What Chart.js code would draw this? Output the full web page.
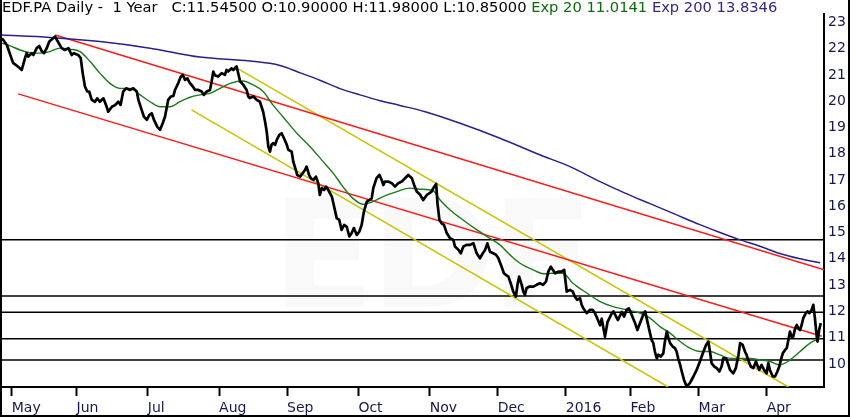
<!DOCTYPE html>
<html>
<head>
<meta charset="utf-8">
<script src="https://cdn.jsdelivr.net/npm/chart.js@4.4.1/dist/chart.umd.min.js"></script>
<style>
  html, body { margin: 0; padding: 0; background: #fff; }
  #wrap { position: relative; width: 850px; height: 417px; overflow: hidden; }
  #mark { position: absolute; left: 272px; top: 168px; font: bold 150px "DejaVu Sans", sans-serif; color: #f9f9f9; letter-spacing: -4px; }
  #box { position: absolute; left: 0; top: 0; width: 850px; height: 417px; }
  #title { position: absolute; left: 2px; top: -1px; font: 14.7px "DejaVu Sans", sans-serif; white-space: pre; color: #000; line-height: 16px; }
  #frame { position: absolute; left: 0; top: 0; width: 850px; height: 417px; box-sizing: border-box;
           border-left: 2px solid #000; border-right: 2px solid #000; border-bottom: 2px solid #000; pointer-events: none; }
</style>
</head>
<body>
<div id="wrap">
  <div id="mark">EDF</div>
  <div id="box"><canvas id="edfChart"></canvas></div>
  <div id="title">EDF.PA Daily -  1 Year   C:11.54500 O:10.90000 H:11.98000 L:10.85000 <span style="color:#0d6b0d">Exp 20 11.0141</span> <span style="color:#3a2486">Exp 200 13.8346</span></div>
  <div id="frame"></div>
</div>
<script>
// trading day index (0 = first bar) for the month ticks
const monthLabels = ['May', 'Jun', 'Jul', 'Aug', 'Sep', 'Oct', 'Nov', 'Dec', '2016', 'Feb', 'Mar', 'Apr'];
const monthDays = [3, 23, 45, 67, 88, 110, 132, 153, 174, 194, 215, 236];
const priceTicks = [10, 11, 12, 13, 14, 15, 16, 17, 18, 19, 20, 21, 22, 23];

// close, traced turning points
const closeDays = [
    0, 1.5, 3.4, 4.9, 6.1, 7.1, 7.6, 8.1, 9.2, 9.7, 10.7, 11.5, 12.3, 13.0, 13.8, 14.6, 16.4, 17.1, 18.4, 19.4,
    20.5, 21.5, 22.2, 23.5, 24.3, 24.9, 25.6, 26.3, 26.9, 27.7, 28.7, 29.4, 30.2, 31.3, 32.1, 32.8, 33.9, 34.9, 35.9, 36.6,
    37.4, 38.3, 39.5, 40.5, 41.6, 42.1, 43.1, 43.8, 44.7, 45.5, 46.2, 46.9, 47.9, 48.8, 49.6, 50.3, 51.3, 52.1, 52.9, 53.4,
    53.9, 54.4, 55.2, 55.8, 56.5, 57.2, 58.0, 58.9, 59.6, 60.6, 61.6, 62.3, 63.2, 64.2, 64.7, 65.2, 65.7, 66.7, 67.8, 68.8,
    69.3, 69.8, 70.9, 71.4, 72.4, 73.5, 74.0, 74.5, 75.5, 76.0, 76.5, 77.6, 78.6, 79.6, 80.6, 81.2, 81.7, 82.2, 82.7, 83.2,
    83.7, 84.3, 84.8, 85.6, 86.3, 87.0, 87.9, 88.4, 89.4, 89.9, 90.7, 91.1, 92.0, 92.8, 93.5, 94.0, 94.8, 95.3, 96.1, 96.9,
    97.6, 98.1, 98.7, 99.4, 100.0, 100.7, 101.8, 102.5, 103.3, 104.1, 104.8, 105.6, 106.4, 107.2, 107.9, 108.6, 109.5, 110.3, 111.0, 111.7,
    112.6, 113.4, 114.1, 114.6, 115.6, 116.5, 117.2, 117.7, 118.2, 119.2, 120.3, 121.3, 122.3, 123.4, 124.4, 125.4, 126.5, 127.2, 128.0, 129.0,
    130.0, 131.1, 132.6, 133.1, 134.0, 134.4, 135.0, 135.7, 136.4, 137.3, 138.3, 139.3, 139.8, 140.9, 141.6, 142.4, 143.4, 144.4, 145.5, 146.5,
    147.5, 148.4, 149.1, 149.8, 150.6, 151.6, 152.5, 153.2, 154.2, 154.9, 155.6, 156.3, 157.0, 157.8, 158.6, 159.1, 159.6, 160.4, 160.9, 161.4,
    161.9, 162.7, 164.0, 165.0, 166.0, 167.0, 167.9, 168.6, 169.4, 170.0, 170.7, 171.7, 172.7, 173.5, 174.0, 174.3, 175.3, 176.2, 176.8, 177.5,
    178.4, 178.9, 179.4, 180.5, 181.5, 182.3, 183.0, 183.7, 184.6, 185.1, 186.1, 186.9, 188.2, 188.7, 190.1, 191.3, 192.0, 192.8, 193.5, 194.4,
    195.4, 196.1, 196.9, 197.9, 198.5, 199.2, 200.0, 200.5, 201.0, 201.5, 202.1, 202.6, 203.3, 204.1, 204.6, 205.2, 205.7, 206.2, 207.0, 207.7,
    208.2, 208.7, 209.3, 209.8, 210.5, 211.3, 212.3, 213.4, 214.4, 215.4, 216.5, 217.3, 218.0, 218.5, 219.0, 219.8, 220.6, 221.4, 222.1, 222.6,
    223.5, 224.2, 224.7, 225.7, 226.5, 227.3, 227.8, 228.6, 229.3, 229.8, 230.3, 231.1, 231.9, 232.7, 233.1, 233.7, 234.4, 235.2, 236.0, 236.5,
    237.0, 237.9, 238.6, 239.3, 239.9, 240.4, 241.0, 241.7, 242.2, 242.7, 243.2, 243.7, 244.2, 244.8, 245.3, 245.8, 246.3, 246.8, 247.3, 248.1,
    248.6, 249.2, 249.9, 250.4, 250.9, 251.4, 251.7, 252.2, 252.7
];
const closeValues = [
    22.40, 22.14, 21.46, 21.32, 21.19, 21.64, 21.83, 21.70, 21.83, 21.76, 22.02, 22.10, 21.90, 21.83, 22.02, 22.27, 22.46, 22.30, 22.02, 21.95,
    22.02, 21.76, 21.83, 21.76, 21.64, 21.07, 20.56, 20.37, 20.37, 20.05, 19.98, 20.11, 19.98, 20.11, 19.86, 19.60, 19.79, 19.85, 19.98, 19.86,
    20.37, 20.49, 20.43, 20.49, 20.37, 20.05, 19.67, 19.41, 19.29, 19.48, 19.54, 19.29, 19.03, 18.91, 19.16, 19.41, 20.05, 20.18, 20.20, 20.43,
    20.56, 20.69, 20.94, 21.00, 20.81, 20.87, 20.69, 20.56, 20.43, 20.43, 20.37, 20.24, 20.37, 20.43, 20.75, 21.13, 20.99, 20.94, 21.07, 21.00,
    21.19, 21.13, 21.25, 21.19, 21.32, 20.75, 20.69, 20.62, 20.43, 20.18, 20.12, 20.18, 20.05, 19.98, 19.60, 19.22, 18.84, 18.27, 18.08, 18.34,
    18.40, 18.34, 18.53, 18.72, 18.78, 18.60, 18.34, 18.15, 18.08, 17.70, 17.38, 17.19, 17.13, 17.26, 17.38, 17.51, 17.19, 17.07, 17.00, 17.13,
    16.88, 16.43, 16.69, 16.62, 16.75, 16.62, 16.37, 15.99, 15.55, 15.48, 15.10, 15.29, 15.22, 14.85, 14.97, 15.17, 14.91, 15.04, 15.29, 15.80,
    16.18, 16.24, 16.30, 16.69, 17.07, 17.19, 17.00, 16.81, 16.94, 16.94, 16.88, 16.75, 16.88, 16.94, 17.07, 17.19, 17.07, 16.81, 16.56, 16.45,
    16.24, 16.43, 16.56, 16.69, 16.85, 16.12, 15.48, 15.35, 15.29, 14.97, 14.78, 14.72, 14.47, 14.34, 14.21, 14.47, 14.53, 14.53, 14.59, 14.21,
    14.02, 14.21, 14.34, 14.59, 14.27, 14.21, 14.15, 14.02, 13.70, 13.45, 13.38, 13.32, 13.07, 12.75, 12.56, 13.01, 13.32, 13.01, 12.75, 12.63,
    12.88, 12.94, 12.94, 13.01, 13.07, 13.01, 13.13, 13.51, 13.70, 13.58, 13.45, 13.51, 13.51, 13.58, 13.07, 12.75, 12.82, 12.75, 12.56, 12.44,
    12.50, 12.25, 12.12, 11.93, 12.06, 12.06, 11.93, 11.74, 11.47, 11.72, 11.03, 11.60, 11.92, 12.00, 11.67, 11.98, 11.80, 12.06, 12.11, 11.85,
    11.55, 11.29, 11.55, 11.87, 12.00, 11.61, 11.17, 10.91, 10.80, 10.47, 10.21, 10.35, 10.28, 10.40, 10.85, 11.23, 10.98, 10.79, 10.66, 10.60,
    10.47, 10.21, 9.96, 9.71, 9.39, 9.14, 9.27, 9.52, 9.77, 10.09, 10.47, 10.72, 10.85, 10.47, 10.03, 9.90, 9.84, 9.71, 9.90, 10.21,
    10.21, 9.96, 9.77, 9.64, 9.84, 10.34, 10.79, 10.72, 10.47, 10.34, 10.15, 9.90, 9.84, 10.09, 9.96, 9.77, 9.96, 9.77, 9.64, 10.03,
    9.77, 9.52, 9.52, 9.71, 9.90, 10.15, 10.41, 10.53, 10.60, 10.91, 11.23, 11.04, 11.04, 11.35, 11.48, 11.35, 11.29, 11.48, 11.74, 11.93,
    12.00, 11.93, 12.06, 12.25, 11.74, 11.10, 10.85, 11.29, 11.55
];

const ema20Days = [
    0, 2.5, 5.6, 8.6, 11.7, 14.8, 17.9, 21.0, 24.1, 27.2, 30.2, 33.3, 36.4, 39.5, 42.6, 45.7, 48.8, 51.9, 54.9, 58.0,
    61.1, 64.2, 67.3, 70.4, 74.4, 77.5, 80.6, 83.6, 86.7, 91.0, 95.1, 99.1, 102.2, 105.2, 108.3, 111.4, 114.5, 117.6, 121.9, 125.9,
    129.0, 133.0, 135.2, 138.3, 142.3, 146.6, 150.6, 153.7, 156.8, 159.9, 163.9, 167.0, 170.1, 173.1, 176.2, 180.6, 184.6, 188.6, 192.9, 196.9,
    200.0, 203.1, 206.2, 209.3, 212.3, 215.4, 218.5, 221.6, 224.7, 227.8, 230.9, 233.9, 237.0, 240.1, 243.2, 246.3, 249.4, 252.5
];
const ema20Values = [
    22.21, 22.11, 21.95, 21.85, 21.83, 21.89, 22.02, 21.98, 21.89, 21.51, 21.07, 20.68, 20.49, 20.49, 20.24, 19.98, 19.79, 19.79, 19.98, 20.15,
    20.24, 20.30, 20.49, 20.68, 20.77, 20.62, 20.37, 19.86, 19.41, 18.78, 18.27, 17.70, 17.26, 16.75, 16.30, 16.08, 16.18, 16.37, 16.56, 16.69,
    16.65, 16.60, 16.24, 15.86, 15.48, 15.10, 14.78, 14.53, 14.15, 13.83, 13.58, 13.43, 13.45, 13.45, 13.07, 12.69, 12.37, 12.18, 12.06, 11.93,
    11.74, 11.42, 11.17, 10.85, 10.60, 10.47, 10.47, 10.34, 10.21, 10.21, 10.21, 10.15, 10.09, 9.96, 10.15, 10.47, 10.79, 10.98
];

const ema200Days = [0, 14.8, 30.2, 45.7, 61.1, 76.5, 85.8, 92.0, 98.1, 104.3, 110.5, 116.7, 122.8, 130.6, 141.4,
    153.7, 166.0, 175.3, 184.6, 192.3, 200.0, 207.7, 215.4, 221.6, 227.8, 233.9, 240.1, 246.3, 252.5];
const ema200Values = [22.52, 22.43, 22.27, 22.02, 21.68, 21.53, 21.36, 21.08, 20.80, 20.48, 20.24, 20.02, 19.84, 19.60, 19.16,
    18.59, 17.96, 17.51, 16.94, 16.50, 16.10, 15.70, 15.30, 15.00, 14.72, 14.48, 14.20, 14.00, 13.85];

// drawn trend lines, [start day, end day] and [start price, end price]
const redUpperDays = [16.4, 253.7], redUpperValues = [22.52, 13.58];
const redLowerDays = [5.0, 253.0], redLowerValues = [20.28, 11.05];
const yellowUpperDays = [72.9, 242.7], yellowUpperValues = [21.23, 9.12];
const yellowLowerDays = [58.5, 205.6], yellowLowerValues = [19.67, 9.12];

// horizontal levels
const levels = [14.73, 12.58, 11.97, 10.96, 10.15];

const dayMin = 0, dayMax = 253.7;
const priceMin = 9.12, priceMax = 23.32;

const toPoints = (xs, ys) => xs.map((x, i) => ({ x, y: ys[i] }));
const line = (label, xs, ys, color, width, extra = {}) => ({
    label, data: toPoints(xs, ys), borderColor: color, borderWidth: width,
    pointRadius: 0, fill: false, tension: 0, ...extra,
});

const datasets = [
    line('Close', closeDays, closeValues, '#000000', 2.7, { borderJoinStyle: 'round' }),
    line('Exp 20', ema20Days, ema20Values, '#1b7a1b', 1.4, { cubicInterpolationMode: 'monotone' }),
    line('Exp 200', ema200Days, ema200Values, '#2c1f8c', 1.5, { cubicInterpolationMode: 'monotone' }),
    line('Trend 1', redUpperDays, redUpperValues, '#ff1a1a', 1.5),
    line('Trend 2', redLowerDays, redLowerValues, '#ff1a1a', 1.5),
    line('Trend 3', yellowUpperDays, yellowUpperValues, '#c8c400', 1.5),
    line('Trend 4', yellowLowerDays, yellowLowerValues, '#c8c400', 1.5),
    ...levels.map((v, i) => line('Level ' + (i + 1), [dayMin, dayMax], [v, v], '#000000', 1.5)),
];

const labelFont = { family: 'DejaVu Sans', size: 14 };

new Chart(document.getElementById('edfChart'), {
    type: 'line',
    data: { datasets },
    options: {
        responsive: true,
        maintainAspectRatio: false,
        animation: false,
        layout: { padding: { left: 2, top: 14, right: 0, bottom: 0 } },
        plugins: { legend: { display: false }, tooltip: { enabled: false } },
        scales: {
            x: {
                type: 'linear', min: dayMin, max: dayMax,
                afterBuildTicks: (s) => { s.ticks = monthDays.map((v) => ({ value: v })); },
                afterFit: (s) => { s.height = 30; },
                ticks: {
                    callback: (v, i) => monthLabels[i], align: 'start', autoSkip: false, maxRotation: 0,
                    font: labelFont, color: '#18184e', padding: 4,
                },
                grid: { drawOnChartArea: false, drawTicks: true, tickLength: 9, tickColor: '#000', tickWidth: 2 },
                border: { color: '#000', width: 2 },
            },
            y: {
                position: 'right', min: priceMin, max: priceMax,
                afterBuildTicks: (s) => { s.ticks = priceTicks.map((v) => ({ value: v })); },
                afterFit: (s) => { s.width = 26; },
                ticks: { font: labelFont, color: '#18184e', padding: 4 },
                grid: { display: false, drawTicks: false },
                border: { color: '#000', width: 2 },
            },
        },
    },
});
</script>
</body>
</html>
